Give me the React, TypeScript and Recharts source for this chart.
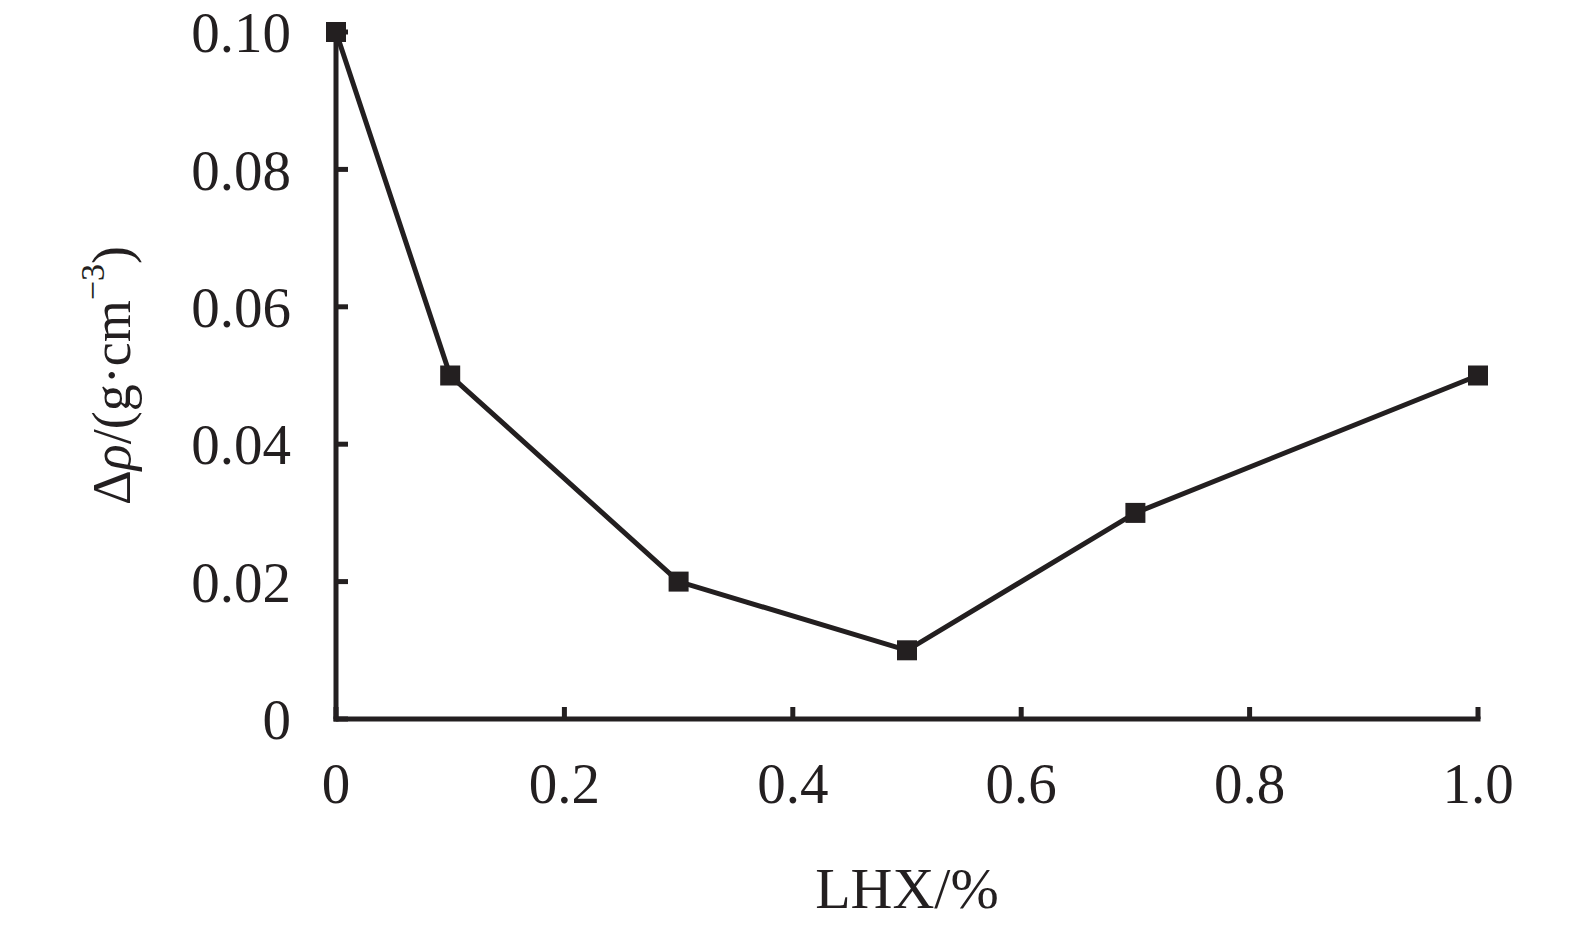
import { LineChart, Line, XAxis, YAxis } from "recharts";

// LHX dosage (%) and density change Δρ (g·cm⁻³)
const lhxPercent = [0, 0.1, 0.3, 0.5, 0.7, 1.0];
const deltaRho = [0.1, 0.05, 0.02, 0.01, 0.03, 0.05];
const xTicks = [0, 0.2, 0.4, 0.6, 0.8, 1.0];
const yTicks = [0, 0.02, 0.04, 0.06, 0.08, 0.1];

const data = lhxPercent.map((x, i) => ({ x, y: deltaRho[i] }));

const INK = "#231f20";
const FONT = "'Liberation Serif', 'Times New Roman', serif";

const SquareDot = (props: any) => {
  const { cx, cy } = props;
  if (cx == null || cy == null) return null;
  return <rect x={cx - 10} y={cy - 10} width={20} height={20} fill={INK} />;
};

const YTitle = ({ viewBox }: any) => {
  const cx = viewBox.x + 112;
  const cy = viewBox.y + viewBox.height / 2;
  return (
    <text
      x={cx}
      y={cy}
      transform={`rotate(-90, ${cx}, ${cy})`}
      textAnchor="middle"
      dominantBaseline="central"
      fontFamily={FONT}
      fontSize={54}
      fill={INK}
    >
      Δ<tspan fontStyle="italic">ρ</tspan>/(g·cm
      <tspan dy={-20} fontSize={34}>−3</tspan>
      <tspan dy={20}>)</tspan>
    </text>
  );
};

const XTitle = ({ viewBox }: any) => {
  const cx = viewBox.x + viewBox.width / 2;
  return (
    <text x={cx} y={viewBox.y + 189} textAnchor="middle" fontFamily={FONT} fontSize={58} fill={INK}>
      LHX/%
    </text>
  );
};

export default function App() {
  const axisLine = { stroke: INK, strokeWidth: 5, strokeLinecap: "square" as const };
  const tickLine = { stroke: INK, strokeWidth: 5 };
  const tickStyle = { fill: INK, fontSize: 57, fontFamily: FONT };
  return (
    <div style={{ position: "absolute", left: 0, top: 0, background: "#fff" }}>
      <LineChart width={1575} height={926} data={data} margin={{ top: 32, right: 97, left: 0, bottom: 0 }}>
        <XAxis
          dataKey="x"
          type="number"
          domain={[0, 1]}
          ticks={xTicks}
          interval={0}
          height={207}
          axisLine={axisLine}
          tickLine={tickLine}
          tickSize={-12}
          tickMargin={56}
          tick={tickStyle}
          tickFormatter={(v: number) => (v === 0 ? "0" : v.toFixed(1))}
          label={{ content: XTitle }}
        />
        <YAxis
          type="number"
          domain={[0, 0.1]}
          ticks={yTicks}
          interval={0}
          width={336}
          axisLine={axisLine}
          tickLine={tickLine}
          tickSize={-12}
          tickMargin={57}
          tick={tickStyle}
          tickFormatter={(v: number) => (v === 0 ? "0" : v.toFixed(2))}
          label={{ content: YTitle }}
        />
        <Line
          dataKey="y"
          stroke={INK}
          strokeWidth={5}
          dot={<SquareDot />}
          activeDot={false}
          isAnimationActive={false}
        />
      </LineChart>
    </div>
  );
}
